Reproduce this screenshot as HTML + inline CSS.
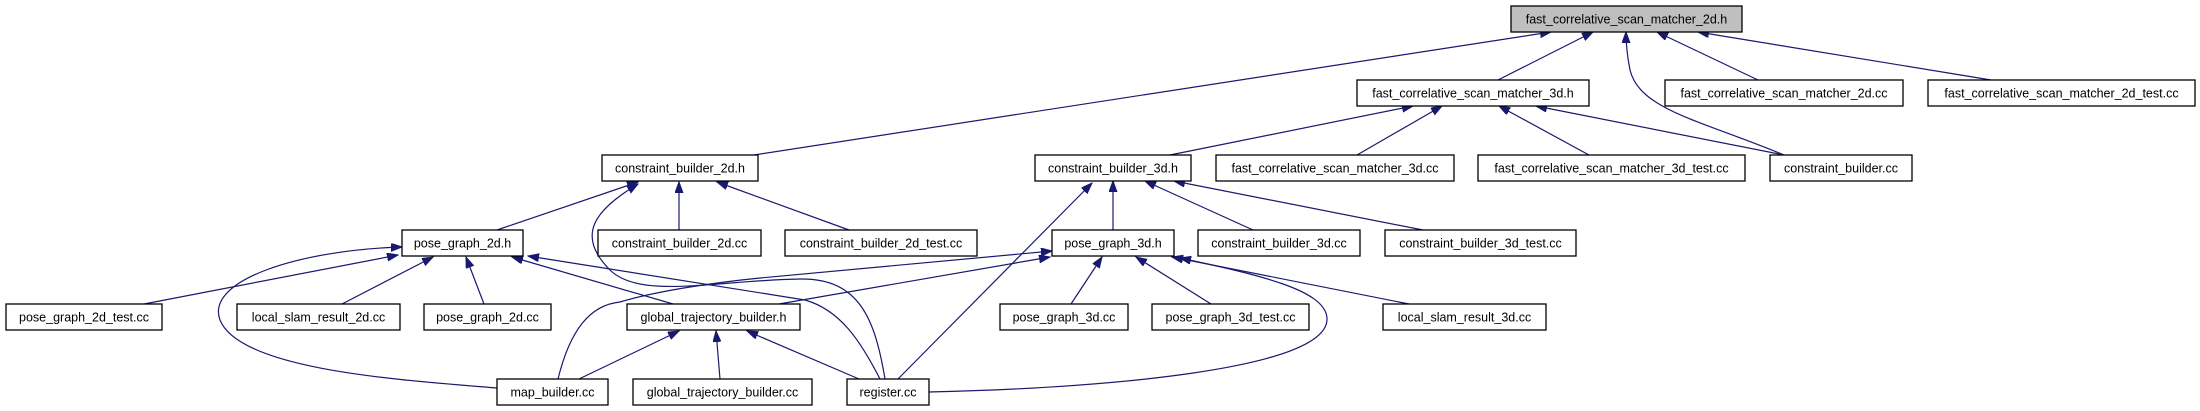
<!DOCTYPE html>
<html><head><meta charset="utf-8"><style>
html,body{margin:0;padding:0;background:#fff;}
svg{display:block;}
text{font-family:"Liberation Sans",Arial,sans-serif;font-size:12.5px;fill:#000;text-anchor:middle;}
.b{fill:#fff;stroke:#000;stroke-width:1.3;}
.g{fill:#bfbfbf;stroke:#000;stroke-width:1.3;}
.e{fill:none;stroke:#191970;stroke-width:1.2;marker-end:url(#a);}
</style></head><body>
<svg width="2200" height="411" viewBox="0 0 2200 411" xmlns="http://www.w3.org/2000/svg">
<defs>
<marker id="a" markerUnits="userSpaceOnUse" markerWidth="12" markerHeight="10" refX="11" refY="4" orient="auto">
<path d="M0,0 L11,4 L0,8 Z" fill="#191970" stroke="#191970"/>
</marker>
</defs>
<!-- edges -->
<path class="e" d="M754,155 L1551,32"/>
<path class="e" d="M1498,80 L1593,32"/>
<path class="e" d="M1758,80 L1657,32"/>
<path class="e" d="M1991,80 L1698,32"/>
<path class="e" d="M1784,155 C1700,120 1640,110 1630,70 C1627,55 1626,45 1626,32"/>
<path class="e" d="M1170,155 L1413,106"/>
<path class="e" d="M1357,155 L1442,106"/>
<path class="e" d="M1589,155 L1499,106"/>
<path class="e" d="M1784,155 L1536,106"/>
<path class="e" d="M1113,230 L1113,181"/>
<path class="e" d="M1253,230 L1145,181"/>
<path class="e" d="M1423,230 L1174,181"/>
<path class="e" d="M1071,304 L1102,257"/>
<path class="e" d="M1211,304 L1136,257"/>
<path class="e" d="M1409,304 L1172,257"/>
<path class="e" d="M497,230 L638,182"/>
<path class="e" d="M679,230 L679,182"/>
<path class="e" d="M849,230 L717,182"/>
<path class="e" d="M144,304 L398,255"/>
<path class="e" d="M342,304 L433,257"/>
<path class="e" d="M484,304 L466,257"/>
<path class="e" d="M579,379 L679,331"/>
<path class="e" d="M720,379 L716,331"/>
<path class="e" d="M859,379 L747,331"/>
<path class="e" d="M673,304 L512,257"/>
<path class="e" d="M779,304 L1050,257"/>
<path class="e" d="M898,379 L1092,183"/>
<path class="e" d="M880,379 C860,340 840,310 805,300 L528,256"/>
<path class="e" d="M885,379 C875,320 860,278 800,279 C720,280 640,300 610,270 C575,235 595,210 638,184"/>
<path class="e" d="M497,388 C400,380 240,370 220,320 C205,280 300,250 402,247"/>
<path class="e" d="M558,379 C570,330 590,305 620,302 C660,290 720,282 760,278 L1052,251"/>
<path class="e" d="M929,392 C1100,388 1330,370 1327,318 C1325,290 1260,275 1180,258"/>
<!-- nodes -->
<rect class="g" x="1511" y="6" width="231" height="26"/><text x="1626.5" y="23.5">fast_correlative_scan_matcher_2d.h</text>
<rect class="b" x="1357" y="80" width="232" height="26"/><text x="1473" y="97.5">fast_correlative_scan_matcher_3d.h</text>
<rect class="b" x="1665" y="80" width="238" height="26"/><text x="1784" y="97.5">fast_correlative_scan_matcher_2d.cc</text>
<rect class="b" x="1928" y="80" width="267" height="26"/><text x="2061.5" y="97.5">fast_correlative_scan_matcher_2d_test.cc</text>
<rect class="b" x="602" y="155" width="156" height="26"/><text x="680" y="172.5">constraint_builder_2d.h</text>
<rect class="b" x="1035" y="155" width="156" height="26"/><text x="1113" y="172.5">constraint_builder_3d.h</text>
<rect class="b" x="1216" y="155" width="238" height="26"/><text x="1335" y="172.5">fast_correlative_scan_matcher_3d.cc</text>
<rect class="b" x="1478" y="155" width="267" height="26"/><text x="1611.5" y="172.5">fast_correlative_scan_matcher_3d_test.cc</text>
<rect class="b" x="1770" y="155" width="142" height="26"/><text x="1841" y="172.5">constraint_builder.cc</text>
<rect class="b" x="402" y="230" width="121" height="26"/><text x="462.5" y="247.5">pose_graph_2d.h</text>
<rect class="b" x="598" y="230" width="163" height="26"/><text x="679.5" y="247.5">constraint_builder_2d.cc</text>
<rect class="b" x="785" y="230" width="192" height="26"/><text x="881" y="247.5">constraint_builder_2d_test.cc</text>
<rect class="b" x="1052" y="230" width="122" height="26"/><text x="1113" y="247.5">pose_graph_3d.h</text>
<rect class="b" x="1198" y="230" width="162" height="26"/><text x="1279" y="247.5">constraint_builder_3d.cc</text>
<rect class="b" x="1385" y="230" width="191" height="26"/><text x="1480.5" y="247.5">constraint_builder_3d_test.cc</text>
<rect class="b" x="6" y="304" width="156" height="26"/><text x="84" y="321.5">pose_graph_2d_test.cc</text>
<rect class="b" x="237" y="304" width="163" height="26"/><text x="318.5" y="321.5">local_slam_result_2d.cc</text>
<rect class="b" x="424" y="304" width="127" height="26"/><text x="487.5" y="321.5">pose_graph_2d.cc</text>
<rect class="b" x="627" y="304" width="173" height="26"/><text x="713.5" y="321.5">global_trajectory_builder.h</text>
<rect class="b" x="1000" y="304" width="128" height="26"/><text x="1064" y="321.5">pose_graph_3d.cc</text>
<rect class="b" x="1152" y="304" width="157" height="26"/><text x="1230.5" y="321.5">pose_graph_3d_test.cc</text>
<rect class="b" x="1383" y="304" width="163" height="26"/><text x="1464.5" y="321.5">local_slam_result_3d.cc</text>
<rect class="b" x="497" y="379" width="111" height="26"/><text x="552.5" y="396.5">map_builder.cc</text>
<rect class="b" x="633" y="379" width="179" height="26"/><text x="722.5" y="396.5">global_trajectory_builder.cc</text>
<rect class="b" x="847" y="379" width="82" height="26"/><text x="888" y="396.5">register.cc</text>
</svg>
</body></html>
